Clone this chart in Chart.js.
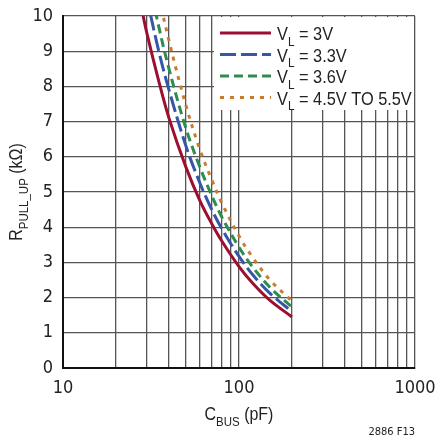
<!DOCTYPE html>
<html>
<head>
<meta charset="utf-8">
<script src="https://cdn.jsdelivr.net/npm/chart.js@4"></script>
<style>
  html, body { margin: 0; padding: 0; background: #fff; }
  #wrap { width: 435px; height: 437px; position: relative; }
</style>
</head>
<body>
<div id="wrap"><canvas id="chart"></canvas></div>
<script>
// --- DATA ---
const cbus = [28, 30, 35, 40, 50, 60, 70, 80, 100, 120, 150, 200];
const rVl30 = [10.2, 9.5, 8.15, 7.1, 5.7, 4.75, 4.1, 3.6, 2.88, 2.4, 1.92, 1.45];
const rVl33 = [11.2, 10.5, 9.0, 7.9, 6.3, 5.25, 4.5, 3.95, 3.17, 2.64, 2.12, 1.6];
const rVl36 = [12.1, 11.3, 9.7, 8.5, 6.8, 5.7, 4.9, 4.28, 3.43, 2.86, 2.29, 1.73];
const rVl45 = [13.3, 12.4, 10.6, 9.3, 7.45, 6.2, 5.35, 4.68, 3.75, 3.13, 2.5, 1.9];
const seriesLabels = ['3V', '3.3V', '3.6V', '4.5V TO 5.5V'];
const xTicks = [10, 20, 30, 40, 50, 60, 70, 80, 90, 100, 200, 300, 400, 500, 600, 700, 800, 900, 1000];
const xLabels = [10, 100, 1000];
const yTicks = [0, 1, 2, 3, 4, 5, 6, 7, 8, 9, 10];

const TICKFONT = "'DejaVu Sans Condensed', 'Liberation Sans', sans-serif";
const FONT = "'Liberation Sans', Arial, sans-serif";
const colors = ['#9c0f30', '#3656a8', '#2f8c50', '#c97c30'];
const dashes = [[], [16, 5], [9, 5], [4, 6]];

const allSeries = [rVl30, rVl33, rVl36, rVl45];

// --- TEXT WITH SUBSCRIPT (squeezed to look like a condensed face) ---
function partsWidth(ctx, parts, size, squeeze) {
    let w = 0;
    parts.forEach(p => {
        ctx.font = (p.sub ? size * 0.72 : size) + 'px ' + FONT;
        w += ctx.measureText(p.t).width;
    });
    return w * squeeze;
}
function drawParts(ctx, parts, x, y, size, squeeze) {
    ctx.save();
    ctx.translate(x, y);
    ctx.scale(squeeze, 1);
    ctx.textBaseline = 'alphabetic';
    ctx.textAlign = 'left';
    let cx = 0;
    parts.forEach(p => {
        ctx.font = (p.sub ? size * 0.72 : size) + 'px ' + FONT;
        ctx.fillText(p.t, cx, p.sub ? size * 0.3 : 0);
        cx += ctx.measureText(p.t).width;
    });
    ctx.restore();
}

const extras = {
    id: 'extras',
    afterDraw(chart) {
        const ctx = chart.ctx;
        const area = chart.chartArea;
        ctx.save();
        // legend box
        ctx.fillStyle = '#fff';
        ctx.fillRect(214, area.top + 1, area.right - 214 - 1, 110 - area.top - 1);
        seriesLabels.forEach((lab, i) => {
            const y = 33 + i * 21.5;
            ctx.strokeStyle = colors[i];
            ctx.lineWidth = 3;
            ctx.setLineDash(dashes[i]);
            ctx.beginPath();
            ctx.moveTo(220, y);
            ctx.lineTo(271, y);
            ctx.stroke();
            ctx.setLineDash([]);
            ctx.fillStyle = '#222';
            drawParts(ctx, [{t: 'V'}, {t: 'L', sub: true}, {t: ' = ' + lab}], 277, y + 7, 19, 0.86);
        });
        // axis titles
        ctx.fillStyle = '#222';
        const xt = [{t: 'C'}, {t: 'BUS', sub: true}, {t: ' (pF)'}];
        const xw = partsWidth(ctx, xt, 19, 0.84);
        drawParts(ctx, xt, 239 - xw / 2, 420, 19, 0.84);
        const yt = [{t: 'R'}, {t: 'PULL_UP', sub: true}, {t: ' (k\u03a9)'}];
        const yw = partsWidth(ctx, yt, 19, 0.84);
        ctx.translate(22, 192);
        ctx.rotate(-Math.PI / 2);
        drawParts(ctx, yt, -yw / 2, 0, 19, 0.84);
        ctx.restore();
        ctx.save();
        ctx.fillStyle = '#222';
        ctx.font = '11px ' + TICKFONT;
        ctx.textAlign = 'right';
        ctx.fillText('2886 F13', 415, 435);
        ctx.restore();
    }
};

new Chart(document.getElementById('chart'), {
    type: 'scatter',
    data: {
        datasets: allSeries.map((vals, i) => ({
            label: 'VL = ' + seriesLabels[i],
            data: cbus.map((c, j) => ({x: c, y: vals[j]})),
            showLine: true,
            borderColor: colors[i],
            borderWidth: 3,
            borderDash: dashes[i],
            pointRadius: 0,
            tension: 0.35,
            fill: false
        }))
    },
    options: {
        responsive: true,
        maintainAspectRatio: false,
        animation: false,
        layout: { padding: { top: 16, right: 20, left: 0, bottom: 0 } },
        plugins: { legend: { display: false }, tooltip: { enabled: false } },
        scales: {
            x: {
                type: 'logarithmic',
                min: 10,
                max: 1000,
                afterBuildTicks: (s) => { s.ticks = xTicks.map(v => ({value: v})); },
                afterFit: (s) => { s.height = 69; s.paddingLeft = 0; s.paddingRight = 0; },
                grid: { color: '#555', lineWidth: 1.3, drawTicks: false },
                border: { color: '#111', width: 2 },
                ticks: {
                    autoSkip: false,
                    maxRotation: 0,
                    padding: 10,
                    color: '#222',
                    font: { family: TICKFONT, size: 18 },
                    callback: (v) => xLabels.includes(v) ? String(v) : ''
                }
            },
            y: {
                min: 0,
                max: 10,
                afterBuildTicks: (s) => { s.ticks = yTicks.map(v => ({value: v})); },
                afterFit: (s) => { s.width = 63; s.paddingTop = 0; s.paddingBottom = 0; },
                grid: { color: '#555', lineWidth: 1.3, drawTicks: false },
                border: { color: '#111', width: 2 },
                ticks: {
                    padding: 10,
                    color: '#222',
                    font: { family: TICKFONT, size: 18 }
                }
            }
        }
    },
    plugins: [extras]
});
</script>
</body>
</html>
